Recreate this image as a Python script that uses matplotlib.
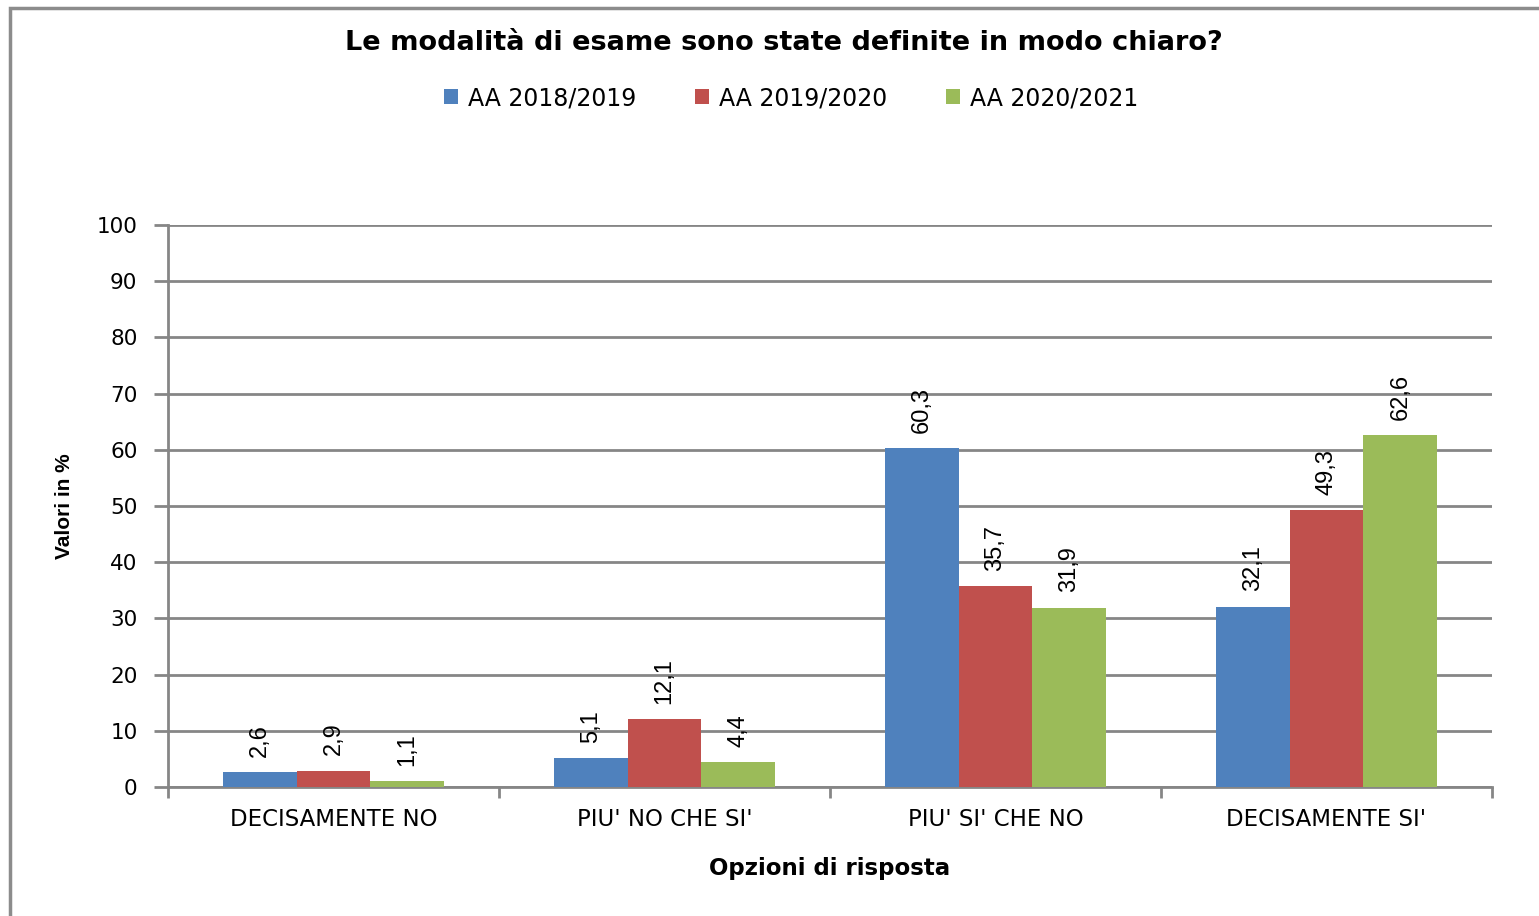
import matplotlib.pyplot as plt
import numpy as np
from matplotlib.patches import Rectangle

categories = ["DECISAMENTE NO", "PIU' NO CHE SI'", "PIU' SI' CHE NO", "DECISAMENTE SI'"]
series_names = ["AA 2018/2019", "AA 2019/2020", "AA 2020/2021"]
aa_2018 = [2.6, 5.1, 60.3, 32.1]
aa_2019 = [2.9, 12.1, 35.7, 49.3]
aa_2020 = [1.1, 4.4, 31.9, 62.6]
yticks = [0, 10, 20, 30, 40, 50, 60, 70, 80, 90, 100]

colors = ["#4F81BD", "#C0504D", "#9BBB59"]
grid_col = "#868686"

fig = plt.figure(figsize=(15.39, 9.16), dpi=100)
ax = fig.add_axes([168/1539, 1 - 787/916, (1492 - 168)/1539, (787 - 225)/916])

# outer chart frame
fig.patches.append(Rectangle((10/1539, -0.05), 1.1, 1 - 8/916 + 0.05,
                             transform=fig.transFigure, fill=False,
                             edgecolor="#8c8c8c", linewidth=2.5))

x = np.arange(len(categories))
w = 0.223
for i, vals in enumerate([aa_2018, aa_2019, aa_2020]):
    pos = x + (i - 1) * w
    ax.bar(pos, vals, width=w, color=colors[i], label=series_names[i], zorder=3)
    for p, v in zip(pos, vals):
        ax.annotate(f"{v:.1f}".replace(".", ","), (p, v), xytext=(0, 11),
                    textcoords="offset points", rotation=90, ha="center", va="bottom",
                    fontsize=17, family="Liberation Sans")

ax.set_xlim(-0.5, len(categories) - 0.5)
ax.set_ylim(0, 100)
ax.set_yticks(yticks)
ax.set_yticklabels([str(t) for t in yticks], fontsize=15.5)
ax.yaxis.grid(True, color=grid_col, linewidth=2, zorder=0)
ax.set_axisbelow(True)
ax.tick_params(axis="y", length=10, width=2, color=grid_col, pad=12)

ax.set_xticks(x)
ax.set_xticklabels(categories, fontsize=16.5)
ax.tick_params(axis="x", length=0, pad=15)
ax.set_xticks(np.arange(-0.5, len(categories)), minor=True)
ax.tick_params(axis="x", which="minor", length=8, width=2, color=grid_col)

for s in ["top", "right"]:
    ax.spines[s].set_visible(False)
for s in ["left", "bottom"]:
    ax.spines[s].set_color(grid_col)
    ax.spines[s].set_linewidth(2)

fig.text(784/1539, 1 - 43/916, "Le modalità di esame sono state definite in modo chiaro?",
         ha="center", va="center", fontsize=19.5, fontweight="bold")
fig.text(830/1539, 1 - 869/916, "Opzioni di risposta", ha="center", va="center",
         fontsize=16.5, fontweight="bold")
fig.text(65/1539, 1 - 506/916, "Valori in %", ha="center", va="center", rotation=90,
         fontsize=15, fontweight="bold", family="Liberation Sans")

fig.legend(loc="center", bbox_to_anchor=(791/1539, 1 - 98/916), ncol=3, frameon=False,
           fontsize=17, handlelength=0.6, handleheight=0.6, handletextpad=0.4,
           columnspacing=2.5)

fig.savefig("out.png", dpi=100)
